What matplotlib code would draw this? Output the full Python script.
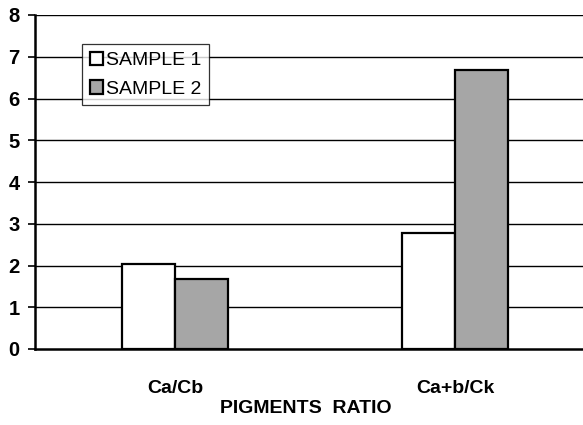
import matplotlib
matplotlib.use("Agg")
import matplotlib.pyplot as plt
import numpy as np

plt.rcParams['font.family'] = ['Liberation Sans', 'DejaVu Sans']

categories = ["Ca/Cb", "Ca+b/Ck"]
sample1 = [2.03, 2.77]
sample2 = [1.68, 6.69]
series_names = ["SAMPLE 1", "SAMPLE 2"]
yticks = [0, 1, 2, 3, 4, 5, 6, 7, 8]

fig = plt.figure(figsize=(5.83, 4.25), dpi=100)
W, H = 583, 425
ax = fig.add_axes([35 / W, (425 - 349) / H, 560 / W, (349 - 15) / H])

x = np.arange(len(categories))
bw = 0.19
ax.bar(x - bw / 2, sample1, bw, color="white", edgecolor="black", linewidth=1.6,
       label=series_names[0], zorder=3)
ax.bar(x + bw / 2, sample2, bw, color="#a6a6a6", edgecolor="black", linewidth=1.6,
       label=series_names[1], zorder=3)

ax.set_xlim(-0.5, 1.5)
ax.set_ylim(0, 8)
ax.set_yticks(yticks)
ax.set_yticklabels([str(v) for v in yticks], fontweight="bold", fontsize=14.5)
for v in yticks[1:]:
    ax.axhline(v, color="black", linewidth=1.0, zorder=1)

ax.set_xticks(x)
ax.set_xticklabels(categories, fontweight="bold", fontsize=14)
ax.tick_params(axis="x", length=0, pad=22)
ax.tick_params(axis="y", length=5, width=1.2, pad=6)

for s in ["top", "right"]:
    ax.spines[s].set_visible(False)
ax.spines["left"].set_linewidth(1.8)
ax.spines["bottom"].set_linewidth(1.8)

ax.set_xlabel("PIGMENTS  RATIO", fontweight="bold", fontsize=14)
ax.xaxis.set_label_coords((306 - 35) / 560, -(400 - 349) / 334, transform=ax.transAxes)

leg = ax.legend(loc="upper left", bbox_to_anchor=(82 / W, 1 - 44 / H),
                bbox_transform=fig.transFigure, fontsize=14, frameon=True,
                fancybox=False, handlelength=0.7, handleheight=0.7,
                handletextpad=0.15, labelspacing=0.55, borderpad=0.4,
                borderaxespad=0)
leg.get_frame().set_edgecolor("black")
leg.get_frame().set_linewidth(0.9)
leg.set_zorder(5)

fig.savefig("out.png", dpi=100)
